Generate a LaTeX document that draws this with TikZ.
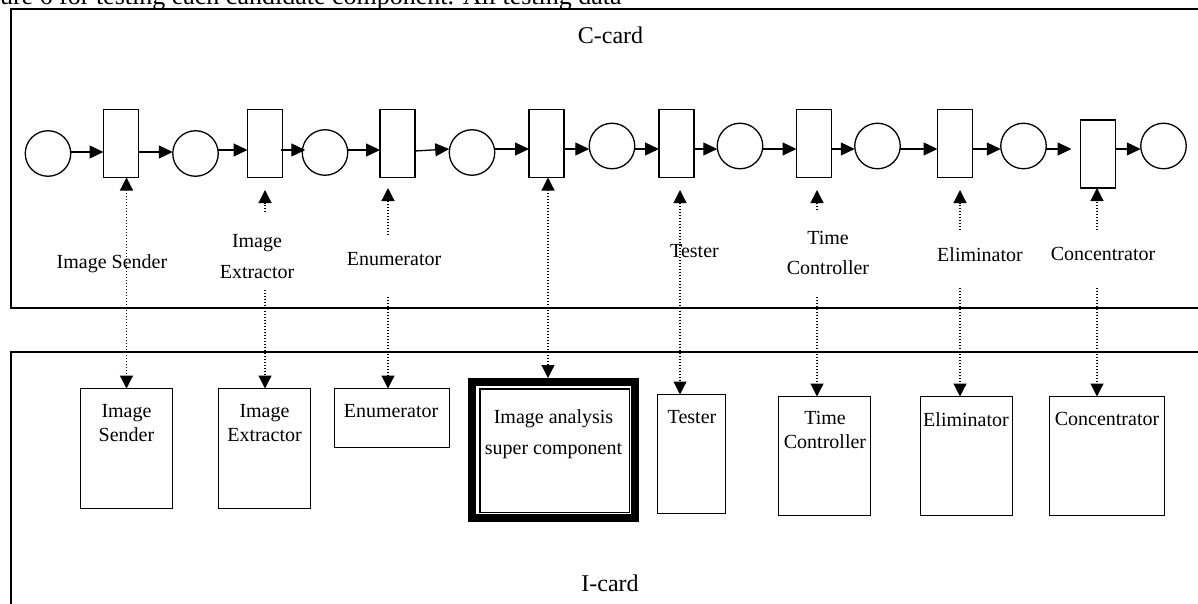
\documentclass[tikz,border=0pt]{standalone}
\usepackage{fontspec}
\setmainfont{Liberation Serif}
\usetikzlibrary{arrows.meta}
\begin{document}
\begin{tikzpicture}[x=1pt,y=-1pt,
  every node/.style={inner sep=0pt, outer sep=0pt},
  place/.style={circle, draw, line width=1.3pt, minimum size=45.5pt},
  trans/.style={rectangle, draw, line width=1.3pt, minimum width=35pt, minimum height=68pt},
  comp/.style={rectangle, draw, line width=1.3pt},
  cardbox/.style={rectangle, draw, line width=1.6pt},
  flow/.style={line width=1.3pt, -{Triangle[length=14pt,width=13pt]}},
  link/.style={line width=1.2pt, dash pattern=on 1.2pt off 1.8pt, -{Triangle[length=13pt,width=13pt]}},
  blink/.style={line width=1.2pt, dash pattern=on 1.2pt off 1.8pt, {Triangle[length=13pt,width=13pt]}-{Triangle[length=13pt,width=13pt]}},
  lbl/.style={font=\fontsize{20}{31}\selectfont, align=center, anchor=north},
  blbl/.style={font=\fontsize{20}{24}\selectfont, align=center, anchor=north},
  cardtitle/.style={font=\fontsize{24}{28}\selectfont, anchor=base},
]
\useasboundingbox (0,0) rectangle (1198,604);
\clip (0,0) rectangle (1198,604);

% caption fragment
\node[font=\fontsize{26}{30}\selectfont, anchor=base west] (cap) at (0,5) {ure 6 for testing each candidate component. All testing data};

% cards
\node[cardbox, minimum width=1200pt, minimum height=298.5pt] (ccard) at (610.7,158.5) {};
\node[cardbox, minimum width=1200pt, minimum height=270pt] (icard) at (610.7,487) {};
\node[cardtitle] (ctitle) at (610.5,43.5) {C-card};
\node[cardtitle] (ititle) at (610,591) {I-card};

% C-card row
\node[place] (c1) at (48,153.5) {};
\node[trans] (r1) at (121,143.5) {};
\node[place] (c2) at (195.5,153.5) {};
\node[trans] (r2) at (265,143.5) {};
\node[place] (c3) at (325,152.5) {};
\node[trans] (r3) at (397.5,143.5) {};
\node[place] (c4) at (472,152.5) {};
\node[trans] (r4) at (546.5,143.5) {};
\node[place] (c5) at (612,146) {};
\node[trans] (r5) at (676.5,143.5) {};
\node[place] (c6) at (740,146) {};
\node[trans] (r6) at (814,143.5) {};
\node[place] (c7) at (877.5,146) {};
\node[trans] (r7) at (955,143.5) {};
\node[place] (c8) at (1023.5,146) {};
\node[trans] (r8) at (1098,154) {};
\node[place] (c9) at (1163.5,146) {};

\draw[flow] (c1.east |- 0,152) -- (r1.west |- 0,152);
\draw[flow] (r1.east |- 0,152) -- (c2.west |- 0,152);
\draw[flow] (c2.east |- 0,150) -- (r2.west |- 0,150);
\draw[flow, shorten <=-2pt, shorten >=-3pt] (r2.east |- 0,150) -- (c3.west |- 0,150);
\draw[flow] (c3.east |- 0,150) -- (r3.west |- 0,150);
\draw[flow] (r3.east |- 0,151) -- (c4.west |- 0,149);
\draw[flow] (c4.east |- 0,149) -- (r4.west |- 0,149);
\draw[flow] (r4.east |- 0,149) -- (c5.west |- 0,149);
\draw[flow] (c5.east |- 0,149) -- (r5.west |- 0,149);
\draw[flow] (r5.east |- 0,149) -- (c6.west |- 0,149);
\draw[flow] (c6.east |- 0,149) -- (r6.west |- 0,149);
\draw[flow] (r6.east |- 0,149) -- (c7.west |- 0,149);
\draw[flow] (c7.east |- 0,149) -- (r7.west |- 0,149);
\draw[flow] (r7.east |- 0,149) -- (c8.west |- 0,149);
\draw[flow, shorten >=9pt] (c8.east |- 0,149) -- (r8.west |- 0,149);
\draw[flow] (r8.east |- 0,149) -- (c9.west |- 0,149);

% C-card labels
\node[lbl] (l1) at (112,254.5) {Image Sender};
\node[lbl] (l2) at (257,234.5) {Image\\Extractor};
\node[lbl] (l3) at (394,252.5) {Enumerator};
\node[lbl] (l5) at (694.5,244.5) {Tester};
\node[lbl, font=\fontsize{20}{30}\selectfont] (l6) at (828,231.5) {Time\\Controller};
\node[lbl] (l7) at (980,247.5) {Eliminator};
\node[lbl] (l8) at (1103,247.5) {Concentrator};

% I-card components
\node[comp, minimum width=92pt, minimum height=120pt] (b1) at (126.5,448.5) {};
\node[comp, minimum width=92pt, minimum height=120pt] (b2) at (264.5,448.5) {};
\node[comp, minimum width=115pt, minimum height=59pt] (b3) at (392,418) {};
\node[rectangle, draw, line width=8pt, minimum width=163pt, minimum height=136pt, outer sep=4pt] (b4) at (553.5,450) {};
\node[rectangle, draw, line width=1.5pt, minimum width=149.5pt, minimum height=123.5pt] (b4in) at (554.5,450.5) {};
\node[comp, minimum width=68pt, minimum height=119pt] (b5) at (691.5,454) {};
\node[comp, minimum width=92pt, minimum height=119pt] (b6) at (824.5,456) {};
\node[comp, minimum width=92pt, minimum height=119pt] (b7) at (966.5,456) {};
\node[comp, minimum width=115pt, minimum height=119pt] (b8) at (1107,456) {};

\node[blbl] (t1) at (126.5,404.5) {Image\\Sender};
\node[blbl] (t2) at (264.5,404.5) {Image\\Extractor};
\node[blbl] (t3) at (391,404.5) {Enumerator};
\node[lbl] (t4) at (553.5,409.5) {Image analysis\\super component};
\node[blbl] (t5) at (692,410.5) {Tester};
\node[blbl] (t6) at (825,411.5) {Time\\Controller};
\node[blbl] (t7) at (966,412.5) {Eliminator};
\node[blbl] (t8) at (1107,412.5) {Concentrator};

% links between C-card and I-card
\draw[blink] (r1.south -| b1.north) -- (b1.north);

\coordinate (u2a) at (265,212);
\coordinate (u2b) at (265,190);
\coordinate (d2) at (265,290);
\draw[link] (u2a) -- (u2b);
\draw[link] (d2) -- (d2 |- b2.north);

\coordinate (u3a) at (388,235);
\coordinate (u3b) at (388,188);
\coordinate (d3) at (388,297);
\draw[link] (u3a) -- (u3b);
\draw[link] (d3) -- (d3 |- b3.north);

\draw[blink] ([xshift=1.5pt]r4.south) -- ([xshift=1.5pt]r4.south |- b4.north);

\coordinate (u5) at (680,190);
\draw[blink] (u5) -- (u5 |- b5.north);

\coordinate (u6a) at (817,210);
\coordinate (u6b) at (817,190);
\coordinate (d6) at (817,297);
\draw[link] (u6a) -- (u6b);
\draw[link] (d6) -- (d6 |- b6.north);

\coordinate (u7a) at (960,230);
\coordinate (u7b) at (960,190);
\coordinate (d7) at (960,288);
\draw[link] (u7a) -- (u7b);
\draw[link] (d7) -- (d7 |- b7.north);

\coordinate (u8a) at (1097,230);
\coordinate (d8) at (1097,288);
\draw[link] (u8a) -- (u8a |- r8.south);
\draw[link] (d8) -- (d8 |- b8.north);
\end{tikzpicture}
\end{document}
